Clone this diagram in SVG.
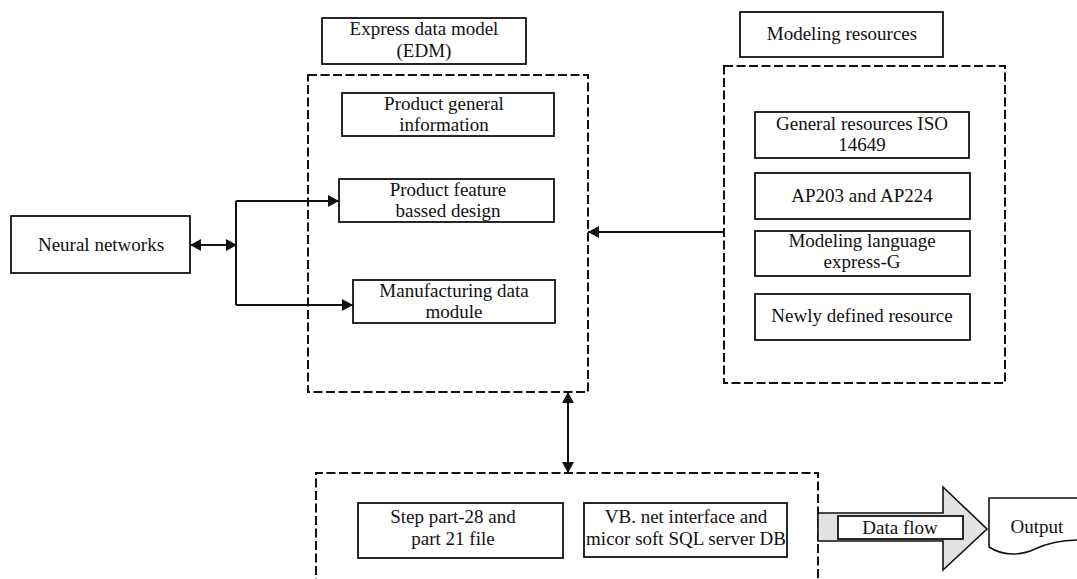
<svg xmlns="http://www.w3.org/2000/svg" width="1077" height="579" viewBox="0 0 1077 579">
<defs>
<style>
.box{fill:#fff;stroke:#111;stroke-width:1.8}
.dash{fill:none;stroke:#111;stroke-width:2;stroke-dasharray:9 3.5}
.t{font-family:"Liberation Serif","Times New Roman",serif;font-size:19px;fill:#111;text-anchor:middle}
.c{fill:none;stroke:#111;stroke-width:2}
</style>
<marker id="ah" markerUnits="userSpaceOnUse" markerWidth="12" markerHeight="12" viewBox="0 0 11 12" refX="11" refY="6" orient="auto-start-reverse">
<path d="M0,0 L11,6 L0,12 Z" fill="#111"/>
</marker>
</defs>
<rect width="1077" height="579" fill="#fff"/>

<g id="edm-container"><rect class="dash" x="308" y="75" width="280" height="317"/></g>
<g id="modeling-container"><rect class="dash" x="724" y="66" width="281" height="317"/></g>
<g id="bottom-container"><path class="dash" d="M316,600 V473 H818 V600"/></g>

<g id="edm-title"><rect class="box" x="322" y="18" width="204" height="46"/>
<text class="t" x="424" y="35">Express data model</text><text class="t" x="424" y="57">(EDM)</text></g>

<g id="modeling-title"><rect class="box" x="740" y="12" width="203" height="45"/>
<text class="t" x="842" y="40">Modeling resources</text></g>

<g id="product-general"><rect class="box" x="342" y="93" width="212" height="43"/>
<text class="t" x="444" y="110">Product general</text><text class="t" x="444" y="131">information</text></g>

<g id="product-feature"><rect class="box" x="339" y="179" width="215" height="43"/>
<text class="t" x="448" y="196">Product feature</text><text class="t" x="448" y="217">bassed design</text></g>

<g id="manufacturing"><rect class="box" x="353" y="280" width="202" height="43"/>
<text class="t" x="454" y="297">Manufacturing data</text><text class="t" x="454" y="318">module</text></g>

<g id="neural"><rect class="box" x="11" y="216" width="179" height="57"/>
<text class="t" x="101" y="251">Neural networks</text></g>

<g id="general-resources"><rect class="box" x="755" y="112" width="214" height="46"/>
<text class="t" x="862" y="130">General resources ISO</text><text class="t" x="862" y="151">14649</text></g>

<g id="ap203"><rect class="box" x="755" y="173" width="215" height="46"/>
<text class="t" x="862" y="202">AP203 and AP224</text></g>

<g id="modeling-language"><rect class="box" x="755" y="231" width="215" height="45"/>
<text class="t" x="862" y="247">Modeling language</text><text class="t" x="862" y="268">express-G</text></g>

<g id="newly-defined"><rect class="box" x="755" y="294" width="215" height="46"/>
<text class="t" x="862" y="322">Newly defined resource</text></g>

<g id="step"><rect class="box" x="358" y="503" width="205" height="55"/>
<text class="t" x="453" y="523">Step part-28 and</text><text class="t" x="453" y="545">part 21 file</text></g>

<g id="vbnet"><rect class="box" x="584" y="503" width="203" height="54"/>
<text class="t" x="686" y="523">VB. net interface and</text><text class="t" x="686" y="545">micor soft SQL server DB</text></g>

<g id="dataflow">
<polygon points="818,513 943,513 943,487 987,529 943,570 943,541 818,541" fill="#e2e2e2" stroke="#111" stroke-width="1.6"/>
<rect class="box" x="838" y="516" width="125" height="23"/>
<text class="t" x="900" y="534">Data flow</text></g>

<g id="output">
<path d="M989,498 H1080 V540 C1065,540 1050,542 1035,549 C1020,556 1003,556 989,547 Z" fill="#fff" stroke="#111" stroke-width="1.6"/>
<text class="t" x="1037" y="533">Output</text></g>

<g id="connectors">
<line class="c" x1="190" y1="245" x2="237" y2="245" marker-start="url(#ah)" marker-end="url(#ah)"/>
<path class="c" d="M236,201 V305"/>
<line class="c" x1="236" y1="201" x2="339" y2="201" marker-end="url(#ah)"/>
<line class="c" x1="236" y1="305" x2="353" y2="305" marker-end="url(#ah)"/>
<line class="c" x1="724" y1="232" x2="588" y2="232" marker-end="url(#ah)"/>
<line class="c" x1="568" y1="392" x2="568" y2="473" marker-start="url(#ah)" marker-end="url(#ah)"/>
</g>
</svg>
